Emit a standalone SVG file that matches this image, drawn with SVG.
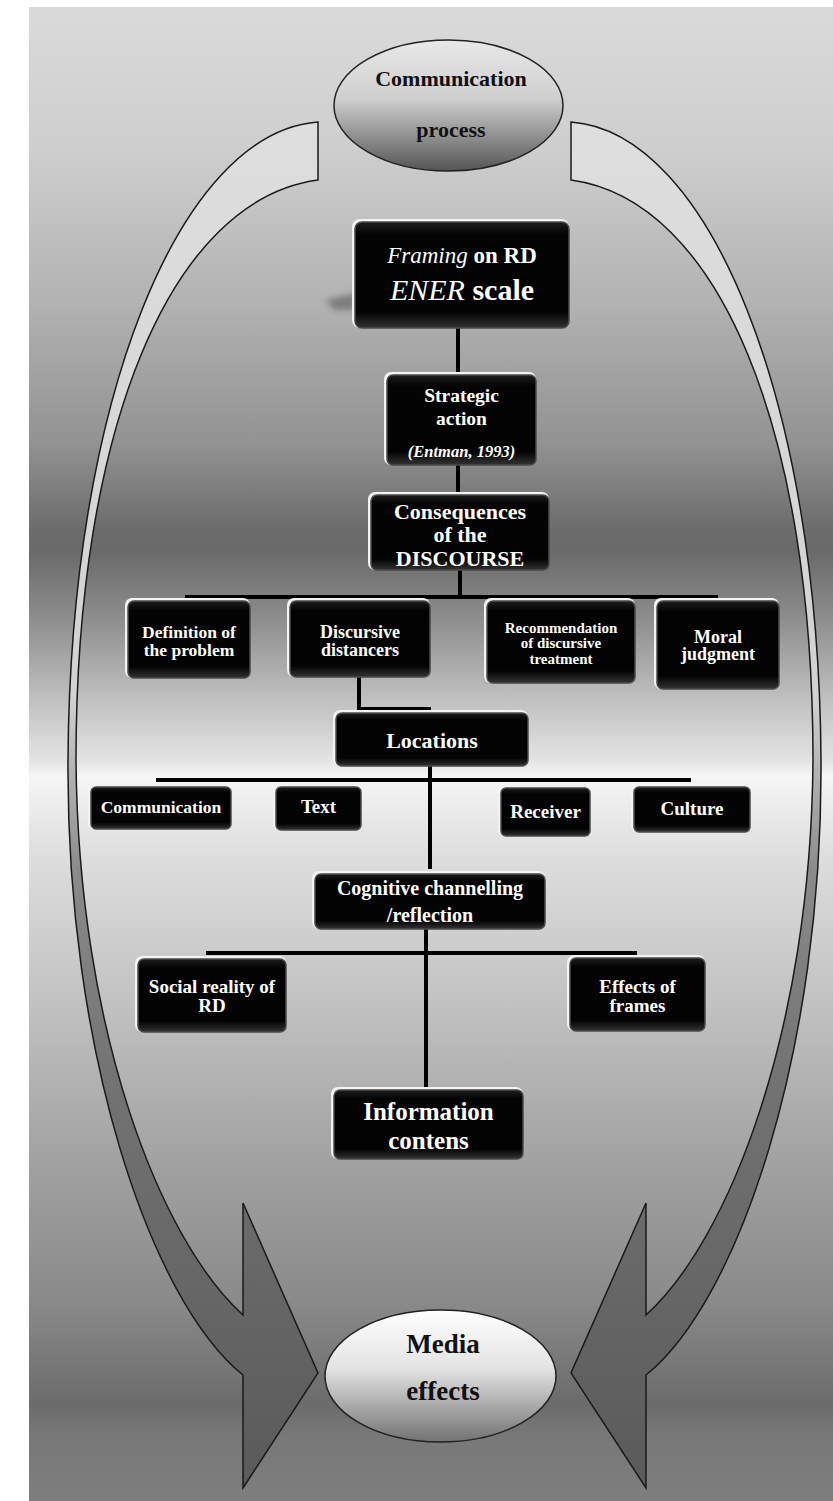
<svg xmlns="http://www.w3.org/2000/svg" width="833" height="1501" viewBox="0 0 833 1501">
<defs>
<linearGradient id="bg" x1="0" y1="7" x2="0" y2="1501" gradientUnits="userSpaceOnUse">
<stop offset="0" stop-color="#dadada"/>
<stop offset="0.096" stop-color="#cecece"/>
<stop offset="0.196" stop-color="#b3b3b3"/>
<stop offset="0.29" stop-color="#939393"/>
<stop offset="0.35" stop-color="#6c6c6c"/>
<stop offset="0.365" stop-color="#6a6a6a"/>
<stop offset="0.41" stop-color="#8e8e8e"/>
<stop offset="0.46" stop-color="#bdbdbd"/>
<stop offset="0.505" stop-color="#e4e4e4"/>
<stop offset="0.515" stop-color="#f6f6f6"/>
<stop offset="0.53" stop-color="#eeeeee"/>
<stop offset="0.57" stop-color="#dddddd"/>
<stop offset="0.665" stop-color="#c2c2c2"/>
<stop offset="0.765" stop-color="#a4a4a4"/>
<stop offset="0.866" stop-color="#8a8a8a"/>
<stop offset="0.936" stop-color="#6b6b6b"/>
<stop offset="0.955" stop-color="#787878"/>
<stop offset="1" stop-color="#7e7e7e"/>
</linearGradient>
<linearGradient id="arrowFill" x1="0" y1="120" x2="0" y2="1490" gradientUnits="userSpaceOnUse">
<stop offset="0" stop-color="#dedede"/>
<stop offset="0.42" stop-color="#d2d2d2"/>
<stop offset="0.55" stop-color="#8a8a8a"/>
<stop offset="0.7" stop-color="#737373"/>
<stop offset="1" stop-color="#5a5a5a"/>
</linearGradient>
<linearGradient id="topEll" x1="0" y1="0" x2="0" y2="1">
<stop offset="0" stop-color="#e8e8e8"/>
<stop offset="0.45" stop-color="#cfcfcf"/>
<stop offset="1" stop-color="#555555"/>
</linearGradient>
<linearGradient id="botEll" x1="0" y1="0" x2="0" y2="1">
<stop offset="0" stop-color="#ffffff"/>
<stop offset="0.45" stop-color="#e2e2e2"/>
<stop offset="1" stop-color="#727272"/>
</linearGradient>
<linearGradient id="boxg" x1="0" y1="0" x2="0" y2="1">
<stop offset="0" stop-color="#1e1e1e"/>
<stop offset="0.12" stop-color="#030303"/>
<stop offset="0.85" stop-color="#030303"/>
<stop offset="1" stop-color="#333333"/>
</linearGradient>
<filter id="blur" x="-50%" y="-50%" width="200%" height="200%"><feGaussianBlur stdDeviation="3"/></filter>
<style>
.hl{fill:#f3f3f3}
.bx{fill:url(#boxg);stroke:#4a4a4a;stroke-width:1.5}
.t{font-family:"Liberation Serif","Times New Roman",serif;font-weight:bold;fill:#ffffff;text-anchor:middle}
.et{font-family:"Liberation Serif","Times New Roman",serif;font-weight:bold;fill:#111111;text-anchor:middle}
.ell{stroke:#222222;stroke-width:1.5}
.arr{fill:url(#arrowFill);stroke:#1a1a1a;stroke-width:1.5;stroke-linejoin:miter}
.con{stroke:#000000;stroke-width:4;fill:none}
</style>
</defs>

<rect x="0" y="0" width="833" height="1501" fill="#ffffff"/>
<rect x="29" y="7" width="804" height="1494" fill="url(#bg)"/>

<g id="arrows">
<path class="arr" d="M318,122 C180,132 70,400 68,760 C66,1050 150,1300 243,1375 L243,1488 L318,1373 L243,1203 L243,1315 C160,1240 78,1030 76,760 C76,430 170,200 318,180 Z"/>
<path class="arr" transform="translate(889,0) scale(-1,1)" d="M318,122 C180,132 70,400 68,760 C66,1050 150,1300 243,1375 L243,1488 L318,1373 L243,1203 L243,1315 C160,1240 78,1030 76,760 C76,430 170,200 318,180 Z"/>
</g>

<g id="communication-process">
<ellipse class="ell" cx="448.5" cy="105.5" rx="114.5" ry="65.5" fill="url(#topEll)"/>
<text class="et" x="451" y="86" font-size="22">Communication</text>
<text class="et" x="451" y="137" font-size="22">process</text>
</g>

<g id="media-effects">
<ellipse class="ell" cx="440.5" cy="1376" rx="115.5" ry="66" fill="url(#botEll)"/>
<text class="et" x="443" y="1353" font-size="27">Media</text>
<text class="et" x="443" y="1400" font-size="27">effects</text>
</g>

<g id="connectors">
<line class="con" x1="458" y1="328" x2="458" y2="375"/>
<line class="con" x1="458" y1="465" x2="458" y2="495"/>
<line class="con" x1="460" y1="570" x2="460" y2="597"/>
<line class="con" x1="185" y1="597" x2="718" y2="597"/>
<path class="con" d="M359,677 V709 H431"/>
<line class="con" x1="430" y1="766" x2="430" y2="869"/>
<line class="con" x1="156" y1="780" x2="691" y2="780"/>
<line class="con" x1="426" y1="929" x2="426" y2="1090"/>
<line class="con" x1="206" y1="953" x2="637" y2="953"/>
</g>

<g id="framing">
<path d="M326,300 L356,293 L356,310 L334,310 Z" fill="#666" opacity="0.7" filter="url(#blur)"/>
<rect class="hl" x="352" y="219" width="217" height="109" rx="8"/>
<rect class="bx" x="355" y="222" width="214" height="106" rx="7"/>
<text class="t" x="462" y="263" font-size="23"><tspan font-style="italic" font-weight="normal">Framing</tspan> on RD</text>
<text class="t" x="462" y="300" font-size="30"><tspan font-style="italic" font-weight="normal">ENER</tspan> scale</text>
</g>

<g id="strategic-action">
<rect class="hl" x="384" y="372" width="152" height="93" rx="7"/>
<rect class="bx" x="387" y="375" width="149" height="90" rx="6"/>
<text class="t" x="461.5" y="402" font-size="19.5">Strategic</text>
<text class="t" x="461.5" y="425" font-size="19.5">action</text>
<text class="t" x="461.5" y="457" font-size="16.5" font-style="italic" font-weight="normal" fill="#cfcfcf">(Entman, 1993)</text>
</g>

<g id="consequences">
<rect class="hl" x="368" y="492" width="181" height="78" rx="7"/>
<rect class="bx" x="371" y="495" width="178" height="75" rx="6"/>
<text class="t" x="460" y="519" font-size="22">Consequences</text>
<text class="t" x="460" y="542" font-size="22">of the</text>
<text class="t" x="460" y="566" font-size="22">DISCOURSE</text>
</g>

<g id="definition">
<rect class="hl" x="125" y="598" width="125" height="80" rx="7"/>
<rect class="bx" x="128" y="601" width="122" height="77" rx="6"/>
<text class="t" x="189" y="638" font-size="17.5">Definition of</text>
<text class="t" x="189" y="656" font-size="17.5">the problem</text>
</g>

<g id="discursive-distancers">
<rect class="hl" x="287" y="598" width="143" height="79" rx="7"/>
<rect class="bx" x="290" y="601" width="140" height="76" rx="6"/>
<text class="t" x="360" y="638" font-size="18">Discursive</text>
<text class="t" x="360" y="656" font-size="18">distancers</text>
</g>

<g id="recommendation">
<rect class="hl" x="484" y="598" width="151" height="85" rx="7"/>
<rect class="bx" x="487" y="601" width="148" height="82" rx="6"/>
<text class="t" x="561" y="633" font-size="15">Recommendation</text>
<text class="t" x="561" y="648" font-size="15">of discursive</text>
<text class="t" x="561" y="664" font-size="15">treatment</text>
</g>

<g id="moral-judgment">
<rect class="hl" x="654" y="598" width="125" height="91" rx="7"/>
<rect class="bx" x="657" y="601" width="122" height="88" rx="6"/>
<text class="t" x="718" y="643" font-size="18">Moral</text>
<text class="t" x="718" y="660" font-size="18">judgment</text>
</g>

<g id="locations">
<rect class="hl" x="333" y="710" width="195" height="56" rx="7"/>
<rect class="bx" x="336" y="713" width="192" height="53" rx="6"/>
<text class="t" x="432" y="748" font-size="22">Locations</text>
</g>

<g id="communication">
<rect class="hl" x="88" y="784" width="143" height="45" rx="6"/>
<rect class="bx" x="91" y="787" width="140" height="42" rx="5"/>
<text class="t" x="161" y="813" font-size="17.5">Communication</text>
</g>

<g id="text">
<rect class="hl" x="273" y="784" width="88" height="46" rx="6"/>
<rect class="bx" x="276" y="787" width="85" height="43" rx="5"/>
<text class="t" x="318.5" y="813" font-size="19">Text</text>
</g>

<g id="receiver">
<rect class="hl" x="498" y="785" width="92" height="51" rx="6"/>
<rect class="bx" x="501" y="788" width="89" height="48" rx="5"/>
<text class="t" x="545.5" y="818" font-size="19">Receiver</text>
</g>

<g id="culture">
<rect class="hl" x="631" y="784" width="119" height="48" rx="6"/>
<rect class="bx" x="634" y="787" width="116" height="45" rx="5"/>
<text class="t" x="692" y="815" font-size="19">Culture</text>
</g>

<g id="cognitive">
<rect class="hl" x="312" y="871" width="233" height="58" rx="7"/>
<rect class="bx" x="315" y="874" width="230" height="55" rx="6"/>
<text class="t" x="430" y="895" font-size="20">Cognitive channelling</text>
<text class="t" x="430" y="922" font-size="20">/reflection</text>
</g>

<g id="social-reality">
<rect class="hl" x="135" y="956" width="151" height="76" rx="7"/>
<rect class="bx" x="138" y="959" width="148" height="73" rx="6"/>
<text class="t" x="212" y="993" font-size="19">Social reality of</text>
<text class="t" x="212" y="1012" font-size="19">RD</text>
</g>

<g id="effects-of-frames">
<rect class="hl" x="567" y="955" width="138" height="76" rx="7"/>
<rect class="bx" x="570" y="958" width="135" height="73" rx="6"/>
<text class="t" x="637.5" y="993" font-size="19">Effects of</text>
<text class="t" x="637.5" y="1012" font-size="19">frames</text>
</g>

<g id="information">
<rect class="hl" x="331" y="1087" width="192" height="72" rx="7"/>
<rect class="bx" x="334" y="1090" width="189" height="69" rx="6"/>
<text class="t" x="428.5" y="1120" font-size="25">Information</text>
<text class="t" x="428.5" y="1149" font-size="25">contens</text>
</g>
</svg>
